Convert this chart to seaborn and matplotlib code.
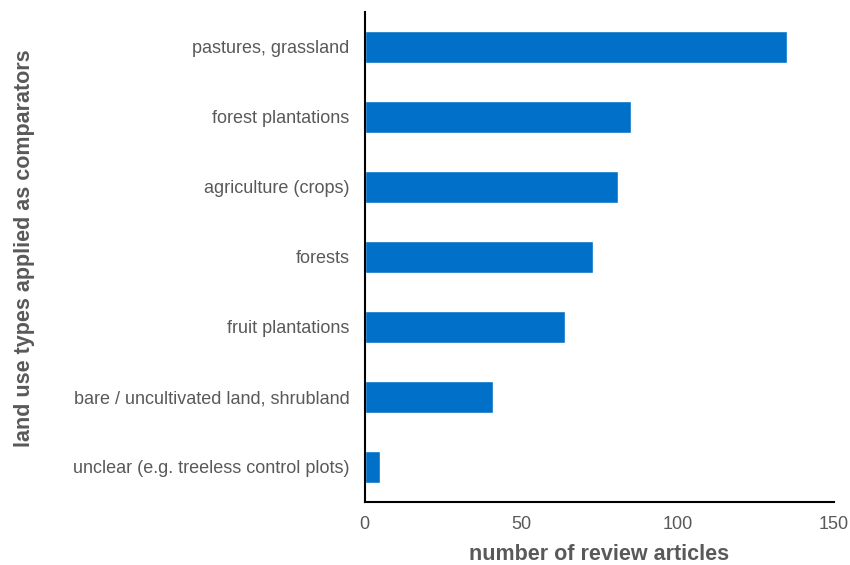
import seaborn as sns
import matplotlib.pyplot as plt
import pandas as pd

categories = [
    "pastures, grassland",
    "forest plantations",
    "agriculture (crops)",
    "forests",
    "fruit plantations",
    "bare / uncultivated land, shrubland",
    "unclear (e.g. treeless control plots)",
]
counts = [135, 85, 81, 73, 64, 41, 5]

df = pd.DataFrame({"category": categories, "count": counts})

sns.set_style("white")
plt.rcParams["font.family"] = ["Liberation Sans", "DejaVu Sans"]

fig, ax = plt.subplots(figsize=(8.5, 5.65), dpi=100)
fig.subplots_adjust(left=0.429, right=0.981, top=0.979, bottom=0.112)

sns.barplot(data=df, x="count", y="category", color="#0070C8",
            saturation=1, width=0.46, ax=ax)

grey = "#595959"
ax.set_xlim(0, 150)
ax.set_ylim(6.5, -0.5)
ax.set_xticks([0, 50, 100, 150])
ax.tick_params(axis="both", length=0, labelsize=13, labelcolor=grey)
ax.tick_params(axis="y", pad=11)
ax.tick_params(axis="x", pad=10)
ax.set_xlabel("number of review articles", fontsize=15.5, fontweight="bold",
              color=grey, labelpad=8)
ax.set_ylabel("land use types applied as comparators", fontsize=15.5,
              fontweight="bold", color=grey, labelpad=27)
ax.yaxis.label.set_y(0.518)
sns.despine(ax=ax)
for s in ["left", "bottom"]:
    ax.spines[s].set_color("black")
    ax.spines[s].set_linewidth(1.5)

fig.savefig("out.png", dpi=100)
